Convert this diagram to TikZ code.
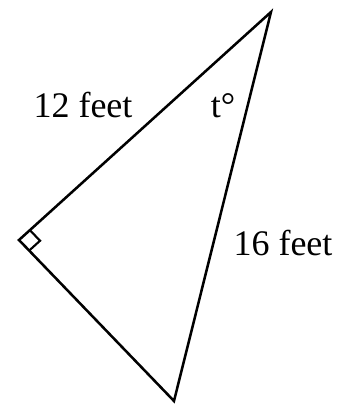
\documentclass[tikz,border=0pt]{standalone}
\usepackage{fontspec}
\setmainfont{Liberation Serif}
\usetikzlibrary{calc}
\begin{document}
\begin{tikzpicture}[x=0.75pt,y=-0.75pt,
  edge/.style={line width=1.9pt,line join=miter},
  lbl/.style={font=\fontsize{27}{32}\selectfont,inner sep=0pt}]
\useasboundingbox (0,0) rectangle (354,405);
\coordinate (T) at (271,12);
\coordinate (L) at (19,240);
\coordinate (B) at (174,401);
\draw[edge] (T) -- (L) -- (B) -- cycle;
\coordinate (P1) at ($(L)!11pt!(T)$);
\coordinate (P2) at ($(L)!11pt!(B)$);
\draw[line width=1.6pt] (P1) -- ($(P1)+(P2)-(L)$) -- (P2);
\node[lbl] (a) at (83,105) {12 feet};
\node[lbl] (t) at (223,106) {t°};
\node[lbl] (c) at (283,243) {16 feet};
\end{tikzpicture}
\end{document}
